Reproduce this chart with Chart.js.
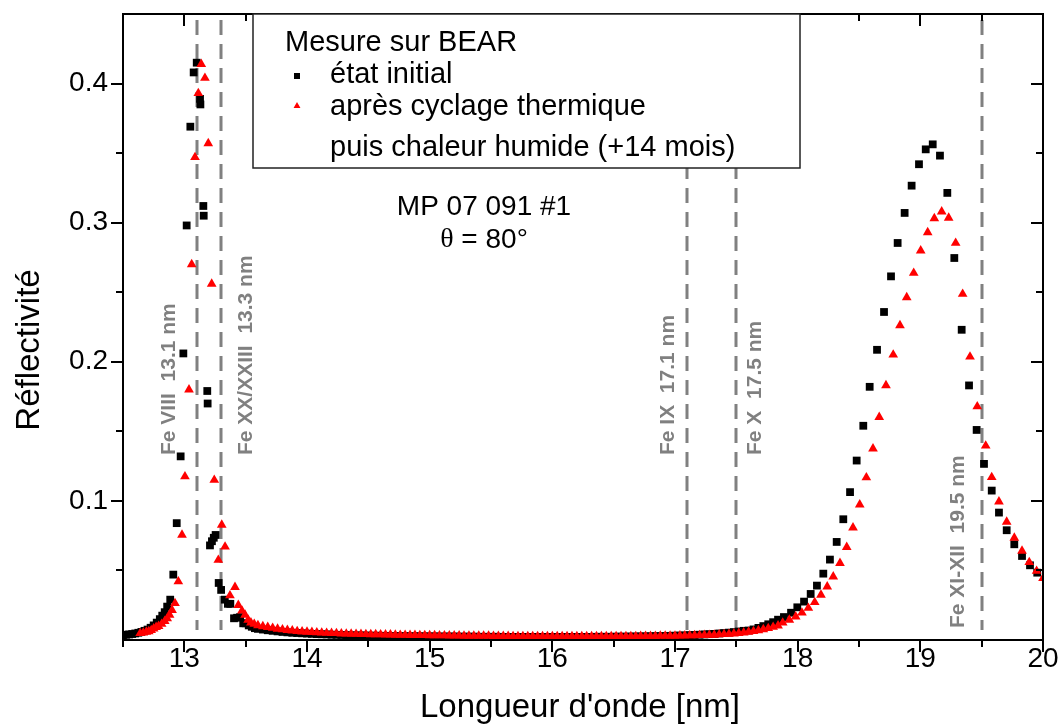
<!DOCTYPE html>
<html>
<head>
<meta charset="utf-8">
<title>Réflectivité MP 07 091 #1</title>
<script src="https://cdn.jsdelivr.net/npm/chart.js@4.4.0/dist/chart.umd.min.js"></script>
<style>
  html, body { margin: 0; padding: 0; background: #fff; }
  #chart { display: block; }
</style>
</head>
<body>
<canvas id="chart" width="1061" height="727"></canvas>
<script>
// axes
const xMajorTicks = [13, 14, 15, 16, 17, 18, 19, 20]
const xMinorTicks = [12.5, 13.5, 14.5, 15.5, 16.5, 17.5, 18.5, 19.5]
const yMajorTicks = [0.1, 0.2, 0.3, 0.4]
const yMinorTicks = [0.05, 0.15, 0.25, 0.35]

// raies du fer (nm)
const lineWavelengths = [13.1, 13.3, 17.1, 17.5, 19.5]
const lineLabels = ['Fe VIII  13.1 nm', 'Fe XX/XXIII  13.3 nm', 'Fe IX  17.1 nm', 'Fe X  17.5 nm', 'Fe XI-XII  19.5 nm']

const legendTitle = 'Mesure sur BEAR'
const seriesNames = ['état initial', 'après cyclage thermique', 'puis chaleur humide (+14 mois)']
const sampleLines = ['MP 07 091 #1', '= 80°']

// état initial : pic 13 nm
const initialLeftX = [12.50, 12.525, 12.55, 12.575, 12.60, 12.625, 12.65, 12.675, 12.70, 12.725,
  12.75, 12.775, 12.80, 12.82, 12.84, 12.86, 12.885, 12.91, 12.938, 12.97,
  12.992, 13.019, 13.049, 13.076, 13.101, 13.128, 13.131, 13.155, 13.158, 13.187,
  13.19, 13.209, 13.225, 13.24, 13.255, 13.28, 13.30, 13.33, 13.355, 13.375,
  13.405, 13.43, 13.455, 13.48, 13.50, 13.525, 13.55, 13.575]
const initialLeftY = [0.0035, 0.0038, 0.0040, 0.0043, 0.0047, 0.0052, 0.0058, 0.0066, 0.0075, 0.0088,
  0.0105, 0.0125, 0.0150, 0.0175, 0.0200, 0.0240, 0.0290, 0.0470, 0.0840, 0.1320,
  0.2060, 0.2980, 0.3690, 0.4080, 0.4150, 0.3890, 0.3850, 0.3120, 0.3050, 0.1790,
  0.1700, 0.0680, 0.0710, 0.0735, 0.0755, 0.0410, 0.0360, 0.0290, 0.0260, 0.0260,
  0.0156, 0.0160, 0.0165, 0.0120, 0.0120, 0.0105, 0.0095, 0.0085]

// après vieillissement : pic 13 nm
const humidLeftX = [12.64, 12.665, 12.69, 12.71, 12.73, 12.75, 12.77, 12.79, 12.815, 12.84,
  12.86, 12.88, 12.90, 12.924, 12.951, 12.981, 13.005, 13.038, 13.06, 13.087,
  13.114, 13.138, 13.168, 13.195, 13.223, 13.244, 13.277, 13.305, 13.332, 13.372,
  13.413, 13.44, 13.47, 13.495, 13.52, 13.543, 13.57]
const humidLeftY = [0.0048, 0.0052, 0.0058, 0.0062, 0.0070, 0.0082, 0.0092, 0.0100, 0.0115, 0.0135,
  0.0155, 0.0180, 0.0215, 0.0264, 0.0420, 0.0755, 0.1175, 0.1800, 0.2700, 0.3470,
  0.3930, 0.4140, 0.4040, 0.3570, 0.2560, 0.1150, 0.0575, 0.0827, 0.0670, 0.0320,
  0.0380, 0.0250, 0.0210, 0.0180, 0.0145, 0.0125, 0.0115]

// plateau entre les deux pics (mêmes longueurs d'onde pour les deux mesures)
const plateauX = [13.60, 13.64, 13.68, 13.72, 13.76, 13.80, 13.84, 13.88, 13.92, 13.96,
  14.00, 14.04, 14.08, 14.12, 14.16, 14.20, 14.24, 14.28, 14.32, 14.36,
  14.40, 14.44, 14.48, 14.52, 14.56, 14.60, 14.64, 14.68, 14.72, 14.76,
  14.80, 14.84, 14.88, 14.92, 14.96, 15.00, 15.04, 15.08, 15.12, 15.16,
  15.20, 15.24, 15.28, 15.32, 15.36, 15.40, 15.44, 15.48, 15.52, 15.56,
  15.60, 15.64, 15.68, 15.72, 15.76, 15.80, 15.84, 15.88, 15.92, 15.96,
  16.00, 16.04, 16.08, 16.12, 16.16, 16.20, 16.24, 16.28, 16.32, 16.36,
  16.40, 16.44, 16.48, 16.52, 16.56, 16.60, 16.64, 16.68, 16.72, 16.76,
  16.80, 16.84, 16.88, 16.92, 16.96, 17.00, 17.04, 17.08, 17.12, 17.16,
  17.20, 17.24, 17.28, 17.32, 17.36, 17.40, 17.44, 17.48, 17.52, 17.56,
  17.60, 17.64, 17.68, 17.72, 17.76, 17.80, 17.84]
const initialPlateauY = [0.0080, 0.0075, 0.0070, 0.0066, 0.0062, 0.0058, 0.0055, 0.0052, 0.0050, 0.0048,
  0.0046, 0.0044, 0.0042, 0.0041, 0.0040, 0.0038, 0.0037, 0.0036, 0.0035, 0.0034,
  0.0033, 0.0033, 0.0032, 0.0031, 0.0031, 0.0030, 0.0030, 0.0029, 0.0029, 0.0028,
  0.0028, 0.0027, 0.0027, 0.0027, 0.0026, 0.0026, 0.0026, 0.0025, 0.0025, 0.0025,
  0.0025, 0.0024, 0.0024, 0.0024, 0.0024, 0.0023, 0.0023, 0.0023, 0.0023, 0.0023,
  0.0022, 0.0022, 0.0022, 0.0022, 0.0022, 0.0022, 0.0022, 0.0022, 0.0022, 0.0022,
  0.0022, 0.0022, 0.0022, 0.0022, 0.0022, 0.0022, 0.0022, 0.0022, 0.0022, 0.0023,
  0.0023, 0.0023, 0.0023, 0.0024, 0.0024, 0.0024, 0.0025, 0.0025, 0.0026, 0.0026,
  0.0027, 0.0028, 0.0028, 0.0029, 0.0030, 0.0031, 0.0032, 0.0033, 0.0035, 0.0036,
  0.0038, 0.0040, 0.0042, 0.0044, 0.0047, 0.0050, 0.0053, 0.0057, 0.0061, 0.0066,
  0.0068, 0.0076, 0.0087, 0.0100, 0.0113, 0.0128, 0.0146]
const humidPlateauY = [0.0105, 0.0098, 0.0092, 0.0086, 0.0080, 0.0075, 0.0071, 0.0067, 0.0063, 0.0060,
  0.0058, 0.0056, 0.0054, 0.0052, 0.0050, 0.0049, 0.0048, 0.0046, 0.0045, 0.0044,
  0.0043, 0.0042, 0.0041, 0.0040, 0.0040, 0.0039, 0.0038, 0.0038, 0.0037, 0.0036,
  0.0036, 0.0035, 0.0035, 0.0034, 0.0034, 0.0033, 0.0033, 0.0032, 0.0032, 0.0031,
  0.0031, 0.0031, 0.0030, 0.0030, 0.0030, 0.0029, 0.0029, 0.0029, 0.0028, 0.0028,
  0.0028, 0.0028, 0.0027, 0.0027, 0.0027, 0.0027, 0.0027, 0.0026, 0.0026, 0.0026,
  0.0026, 0.0026, 0.0026, 0.0026, 0.0026, 0.0026, 0.0026, 0.0026, 0.0026, 0.0026,
  0.0026, 0.0026, 0.0026, 0.0027, 0.0027, 0.0027, 0.0027, 0.0027, 0.0028, 0.0028,
  0.0028, 0.0028, 0.0029, 0.0029, 0.0030, 0.0030, 0.0031, 0.0031, 0.0032, 0.0033,
  0.0034, 0.0035, 0.0036, 0.0037, 0.0039, 0.0041, 0.0043, 0.0046, 0.0049, 0.0053,
  0.0058, 0.0063, 0.0069, 0.0076, 0.0084, 0.0093, 0.0103]

// pic 19 nm
const initialRightX = [17.888, 17.946, 17.997, 18.052, 18.106, 18.157, 18.209, 18.263, 18.318, 18.372,
  18.427, 18.481, 18.535, 18.587, 18.647, 18.704, 18.761, 18.815, 18.872, 18.929,
  18.989, 19.044, 19.101, 19.160, 19.220, 19.277, 19.337, 19.397, 19.459, 19.519,
  19.582, 19.641, 19.704, 19.766, 19.829, 19.894, 19.953]
const initialRightY = [0.0165, 0.0196, 0.0235, 0.0276, 0.0331, 0.0391, 0.0477, 0.0578, 0.0705, 0.0868,
  0.1063, 0.1290, 0.1540, 0.1820, 0.2086, 0.2358, 0.2614, 0.2854, 0.3070, 0.3266,
  0.3420, 0.3527, 0.3563, 0.3482, 0.3214, 0.2746, 0.2230, 0.1830, 0.1510, 0.1266,
  0.1074, 0.0916, 0.0789, 0.0688, 0.0604, 0.0537, 0.0484]
const humidRightX = [17.878, 17.932, 17.984, 18.035, 18.087, 18.139, 18.190, 18.241, 18.290, 18.345,
  18.400, 18.451, 18.506, 18.560, 18.614, 18.665, 18.720, 18.779, 18.834, 18.889,
  18.946, 19.003, 19.060, 19.114, 19.174, 19.231, 19.288, 19.345, 19.405, 19.464,
  19.533, 19.582, 19.641, 19.704, 19.766, 19.829, 19.888, 19.948, 20.000]
const humidRightY = [0.0124, 0.0144, 0.0168, 0.0196, 0.0230, 0.0271, 0.0324, 0.0383, 0.0455, 0.0552,
  0.0667, 0.0808, 0.0973, 0.1168, 0.1376, 0.1602, 0.1830, 0.2050, 0.2261, 0.2463,
  0.2638, 0.2799, 0.2930, 0.3031, 0.3079, 0.3034, 0.2854, 0.2487, 0.2036, 0.1678,
  0.1396, 0.1170, 0.0995, 0.0849, 0.0734, 0.0640, 0.0559, 0.0496, 0.0444]

const FONT = "'Liberation Sans', Arial, sans-serif"
const GREY = '#808080'

function toPoints(xs, ys) {
  return xs.map((x, i) => ({ x, y: ys[i] }))
}

const initialData = toPoints(
  [...initialLeftX, ...plateauX, ...initialRightX],
  [...initialLeftY, ...initialPlateauY, ...initialRightY])
const humidData = toPoints(
  [...humidLeftX, ...plateauX, ...humidRightX],
  [...humidLeftY, ...humidPlateauY, ...humidRightY])

function drawSquare(ctx, x, y, half) {
  ctx.fillRect(x - half, y - half, half * 2, half * 2)
}

function drawTriangle(ctx, x, y, r) {
  ctx.beginPath()
  ctx.moveTo(x, y - r)
  ctx.lineTo(x + r * 0.866, y + r * 0.5)
  ctx.lineTo(x - r * 0.866, y + r * 0.5)
  ctx.closePath()
  ctx.fill()
}

// décor : raies, cadre, graduations, légende, titres
const decorPlugin = {
  id: 'decor',
  beforeDatasetsDraw(chart) {
    const { ctx, chartArea: a, scales: { x } } = chart
    ctx.save()
    ctx.strokeStyle = GREY
    ctx.lineWidth = 3
    ctx.setLineDash([15, 9])
    lineWavelengths.forEach(w => {
      const px = Math.round(x.getPixelForValue(w))
      ctx.beginPath()
      ctx.moveTo(px, a.top + 6)
      ctx.lineTo(px, a.bottom - 10)
      ctx.stroke()
    })
    ctx.setLineDash([])

    // étiquettes verticales des raies
    const offsets = [-27, 25, -19, 19, -23]
    const starts = [455, 455, 455, 455, 628]
    ctx.fillStyle = GREY
    ctx.font = 'bold 21px ' + FONT
    ctx.textAlign = 'left'
    ctx.textBaseline = 'middle'
    lineWavelengths.forEach((w, i) => {
      const px = x.getPixelForValue(w) + offsets[i]
      ctx.save()
      ctx.translate(px, starts[i])
      ctx.rotate(-Math.PI / 2)
      ctx.fillText(lineLabels[i], 0, 0)
      ctx.restore()
    })
    ctx.restore()
  },
  afterDatasetsDraw(chart) {
    const { ctx, chartArea: a, scales: { x, y } } = chart
    ctx.save()

    // cadre
    ctx.strokeStyle = '#000'
    ctx.lineWidth = 2
    ctx.strokeRect(a.left, a.top, a.right - a.left, a.bottom - a.top)

    // graduations : dehors en bas/gauche, dedans en haut/droite
    const tick = (x1, y1, x2, y2) => {
      ctx.beginPath()
      ctx.moveTo(x1, y1)
      ctx.lineTo(x2, y2)
      ctx.stroke()
    }
    xMajorTicks.concat(xMinorTicks).forEach(v => {
      const px = Math.round(x.getPixelForValue(v))
      const len = xMajorTicks.includes(v) ? 12 : 7
      tick(px, a.bottom, px, a.bottom + len)
      tick(px, a.top, px, a.top + len)
    })
    yMajorTicks.concat(yMinorTicks).forEach(v => {
      const py = Math.round(y.getPixelForValue(v))
      const len = yMajorTicks.includes(v) ? 12 : 7
      tick(a.left, py, a.left - len, py)
      tick(a.right, py, a.right - len, py)
    })

    // légende
    ctx.fillStyle = '#fff'
    ctx.fillRect(253, a.top, 547, 154)
    ctx.strokeStyle = '#222'
    ctx.lineWidth = 1.5
    ctx.strokeRect(253, a.top, 547, 154)
    ctx.fillStyle = '#000'
    ctx.font = '29px ' + FONT
    ctx.textAlign = 'left'
    ctx.textBaseline = 'middle'
    ctx.fillText(legendTitle, 285, 43)
    ctx.fillText(seriesNames[0], 330, 75)
    ctx.fillText(seriesNames[1], 330, 107)
    ctx.fillText(seriesNames[2], 330, 148)
    drawSquare(ctx, 297, 76, 3)
    ctx.fillStyle = '#ff0000'
    drawTriangle(ctx, 297, 106, 4)

    // échantillon
    ctx.fillStyle = '#000'
    ctx.font = '28px ' + FONT
    ctx.textAlign = 'center'
    ctx.fillText(sampleLines[0], 484, 207)
    const rest = ' ' + sampleLines[1]
    const wRest = ctx.measureText(rest).width
    ctx.font = '28px "Liberation Serif", "DejaVu Serif", serif'
    const wTheta = ctx.measureText('θ').width
    const x0 = 484 - (wRest + wTheta) / 2
    ctx.textAlign = 'left'
    ctx.fillText('θ', x0, 240)
    ctx.font = '28px ' + FONT
    ctx.fillText(rest, x0 + wTheta, 240)

    // titres des axes
    ctx.font = '33px ' + FONT
    ctx.textAlign = 'center'
    ctx.fillText("Longueur d'onde [nm]", 580, 708)
    ctx.save()
    ctx.translate(30, 350)
    ctx.rotate(-Math.PI / 2)
    ctx.fillText('Réflectivité', 0, 0)
    ctx.restore()

    ctx.restore()
  }
}

new Chart(document.getElementById('chart'), {
  type: 'scatter',
  data: {
    datasets: [
      {
        label: seriesNames[0],
        data: initialData,
        pointStyle: 'rect',
        pointRadius: 5.5,
        backgroundColor: '#000',
        borderWidth: 0,
        order: 2
      },
      {
        label: seriesNames[1] + ' ' + seriesNames[2],
        data: humidData,
        pointStyle: 'triangle',
        pointRadius: 5.6,
        backgroundColor: '#ff0000',
        borderWidth: 0,
        order: 1
      }
    ]
  },
  options: {
    responsive: false,
    devicePixelRatio: 1,
    animation: false,
    layout: { padding: { top: 14, right: 18, left: 0, bottom: 0 } },
    plugins: {
      legend: { display: false },
      tooltip: { enabled: false }
    },
    scales: {
      x: {
        type: 'linear',
        min: 12.5,
        max: 20,
        afterBuildTicks: s => { s.ticks = xMajorTicks.map(v => ({ value: v })) },
        afterFit: s => { s.height = 87; s.paddingLeft = 0; s.paddingRight = 0 },
        grid: { display: false, drawTicks: false },
        border: { display: false },
        ticks: {
          color: '#000',
          font: { family: FONT, size: 28 },
          padding: 2,
          maxRotation: 0,
          autoSkip: false,
          callback: v => String(v)
        }
      },
      y: {
        type: 'linear',
        min: 0,
        max: 0.45,
        afterBuildTicks: s => { s.ticks = yMajorTicks.map(v => ({ value: v })) },
        afterFit: s => { s.width = 123; s.paddingTop = 0; s.paddingBottom = 0 },
        grid: { display: false, drawTicks: false },
        border: { display: false },
        ticks: {
          color: '#000',
          font: { family: FONT, size: 28 },
          padding: 15,
          autoSkip: false,
          callback: v => v.toFixed(1)
        }
      }
    }
  },
  plugins: [decorPlugin]
})
</script>
</body>
</html>
